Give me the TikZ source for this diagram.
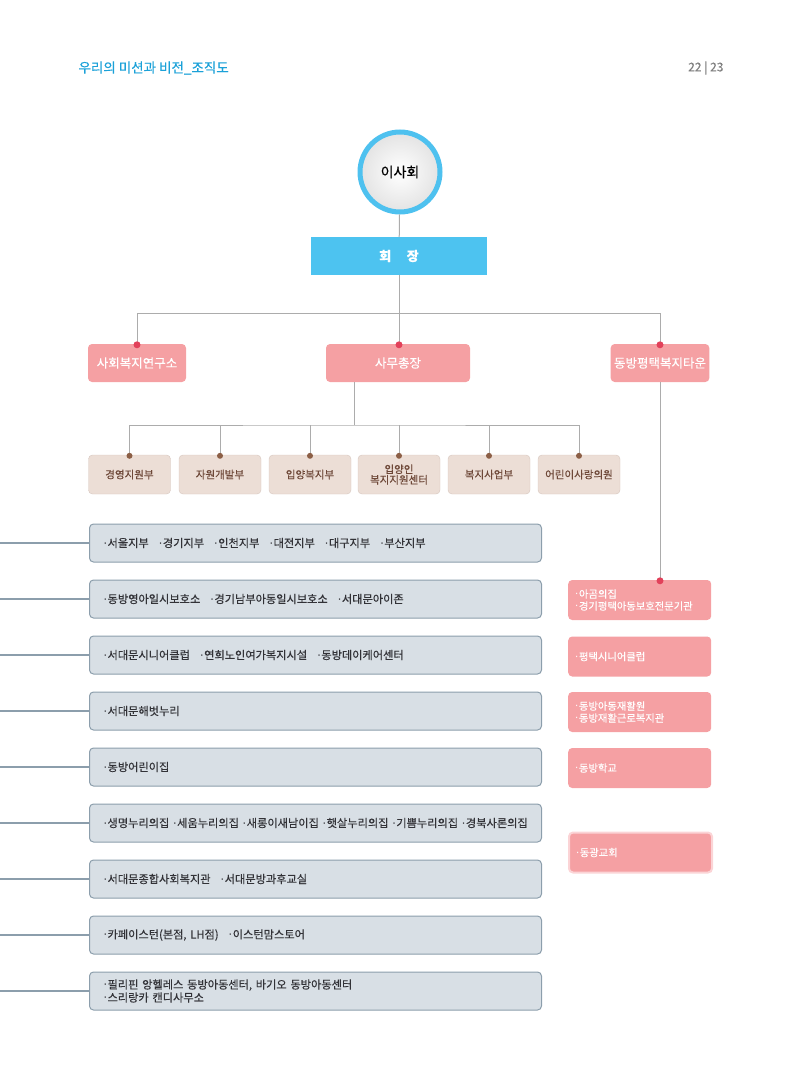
\documentclass[tikz,border=0pt]{standalone}
\usepackage{fontspec}
\setmainfont{Noto Sans CJK KR}[FakeBold=0.4]
\newfontfamily\dotfont{DejaVu Sans}
\definecolor{titlecyan}{RGB}{27,161,216}
\definecolor{ringblue}{RGB}{78,193,239}
\definecolor{chairblue}{RGB}{77,195,240}
\definecolor{boxpink}{RGB}{245,160,163}
\definecolor{dotred}{RGB}{226,65,90}
\definecolor{deptfill}{RGB}{236,222,214}
\definecolor{deptline}{RGB}{214,198,190}
\definecolor{depttext}{RGB}{110,72,56}
\definecolor{deptdot}{RGB}{140,95,70}
\definecolor{unitfill}{RGB}{216,223,229}
\definecolor{unitline}{RGB}{140,158,172}
\definecolor{unittext}{RGB}{50,50,55}
\definecolor{conngray}{RGB}{172,172,172}
\newcommand{\itemgap}{\hspace{0.9em}}
\newcommand{\bul}{{\dotfont ·}\kern0.5pt}
\tikzset{
  boardnode/.style={circle, draw=ringblue, line width=5pt, minimum size=80pt,
    inner color=white, outer color=gray!22, font=\fontsize{14}{16}\selectfont},
  chairbox/.style={fill=chairblue, minimum width=176pt, minimum height=38pt,
    text=white, font=\fontsize{13}{15}\selectfont\bfseries},
  mainbox/.style={rounded corners=4pt, fill=boxpink, text=white, minimum height=38pt,
    font=\fontsize{12.5}{14}\selectfont},
  deptbox/.style={rounded corners=4pt, fill=deptfill, draw=deptline, minimum width=82pt,
    minimum height=39pt, text=depttext, align=center, font=\fontsize{10.5}{11.5}\selectfont},
  unitbox/.style={rounded corners=4pt, fill=unitfill, draw=unitline, line width=1pt,
    minimum height=38pt, text width=424pt, inner xsep=14pt, align=left, anchor=west,
    text=unittext, font=\fontsize{11.2}{13}\selectfont},
  townbox/.style={rounded corners=4pt, fill=boxpink, text=white, minimum height=40pt,
    text width=129pt, inner xsep=7pt, align=left, anchor=west,
    font=\fontsize{10.3}{12}\selectfont},
  conn/.style={draw=conngray, line width=1pt},
  unitconn/.style={draw=unitline, line width=1.2pt}
}
\begin{document}
\begin{tikzpicture}[x=1pt,y=-1pt]
  \useasboundingbox (0,0) rectangle (800,1081);
  \node[anchor=west, text=titlecyan, font=\fontsize{13.5}{15}\selectfont] (title) at (75,68) {우리의 미션과 비전\_조직도};
  \node[anchor=east, text=gray, font=\fontsize{12}{14}\selectfont] (page) at (727,68) {22 | 23};

  \node[boardnode] (board) at (400,172) {이사회};
  \node[chairbox] (chair) at (399,256) {회\hspace{1.2em}장};

  \node[mainbox, minimum width=98pt] (lab) at (137,363) {사회복지연구소};
  \node[mainbox, minimum width=144pt] (sec) at (398,363) {사무총장};
  \node[mainbox, minimum width=97pt] (town) at (660,363) {동방평택복지타운};

  \foreach \x/\name/\txt in {129.5/d1/경영지원부, 220/d2/자원개발부, 310/d3/입양복지부,
      399/d4/{입양인\\[-1pt]복지지원센터}, 489/d5/복지사업부, 579/d6/어린이사랑의원}
    \node[deptbox] (\name) at (\x,474.5) {\txt};

  \foreach \txt [count=\i] in {
      {\bul 서울지부\itemgap \bul 경기지부\itemgap \bul 인천지부\itemgap \bul 대전지부\itemgap \bul 대구지부\itemgap \bul 부산지부},
      {\bul 동방영아일시보호소\itemgap \bul 경기남부아동일시보호소\itemgap \bul 서대문아이존},
      {\bul 서대문시니어클럽\itemgap \bul 연희노인여가복지시설\itemgap \bul 동방데이케어센터},
      {\bul 서대문해벗누리},
      {\bul 동방어린이집},
      {\mbox{\bul 생명누리의집 \bul 세움누리의집 \bul 새롱이새남이집 \bul 햇살누리의집 \bul 기쁨누리의집 \bul 경북사론의집}},
      {\bul 서대문종합사회복지관\itemgap \bul 서대문방과후교실},
      {\bul 카페이스턴(본점, LH점)\itemgap \bul 이스턴맘스토어},
      {\bul 필리핀 앙헬레스 동방아동센터, 바기오 동방아동센터\\\bul 스리랑카 캔디사무소}}
    \node[unitbox] (u\i) at (89,{487+56*\i}) {\txt};

  \node[townbox] (r1) at (568,600) {\bul 아곰의집\\\bul 경기평택아동보호전문기관};
  \node[townbox] (r2) at (568,656.5) {\bul 평택시니어클럽};
  \node[townbox] (r3) at (568,712) {\bul 동방아동재활원\\\bul 동방재활근로복지관};
  \node[townbox] (r4) at (568,768) {\bul 동방학교};
  \node[townbox, draw={rgb,255:red,251;green,212;blue,214}, line width=2pt] (r5) at (568,852.5) {\bul 동광교회};

  \draw[conn] (board) -- (chair);
  \draw[conn] (chair) -- (chair |- sec.north);
  \draw[conn] (lab.north) -- (lab.north |- 0,313) -- (town.north |- 0,313) -- (town.north);
  \coordinate (bus) at (354,425);
  \draw[conn] (sec.south -| bus) -- (bus);
  \draw[conn] (d1.north) |- (bus) -| (d6.north);
  \foreach \i in {2,...,5}
    \draw[conn] (d\i.north) -- (d\i.north |- bus);
  \draw[conn] (town.south) -- (town.south |- r1.north);

  \coordinate (edge) at (0,0);
  \foreach \i in {1,...,9}
    \draw[unitconn] (u\i.west) -- (u\i.west -| edge);

  \fill[dotred] ([yshift=-1pt]lab.north) circle (3.5pt);
  \fill[dotred] ([yshift=-1pt]chair |- sec.north) circle (3.5pt);
  \fill[dotred] ([yshift=-1pt]town.north) circle (3.5pt);
  \fill[dotred] ([yshift=-1pt]town.south |- r1.north) circle (3.5pt);
  \foreach \i in {1,...,6}
    \fill[deptdot] ([yshift=-1pt]d\i.north) circle (3pt);
\end{tikzpicture}
\end{document}
